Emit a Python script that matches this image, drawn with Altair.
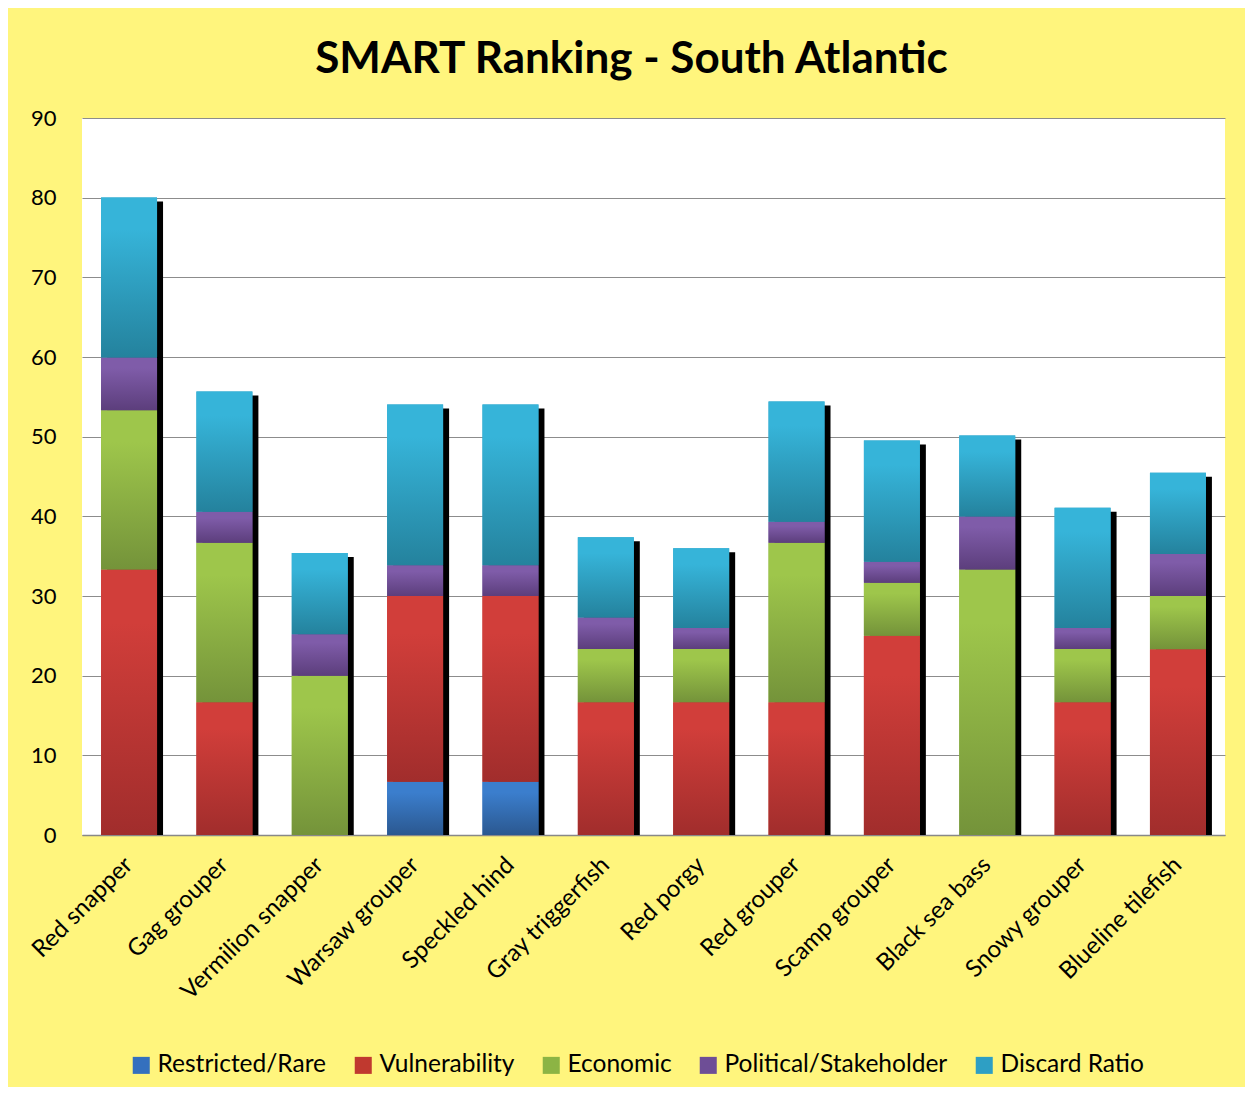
import altair as alt
import pandas as pd

species = ["Red snapper", "Gag grouper", "Vermilion snapper", "Warsaw grouper",
           "Speckled hind", "Gray triggerfish", "Red porgy", "Red grouper",
           "Scamp grouper", "Black sea bass", "Snowy grouper", "Blueline tilefish"]
series = ["Restricted/Rare", "Vulnerability", "Economic", "Political/Stakeholder", "Discard Ratio"]

restricted = [0, 0, 0, 6.67, 6.67, 0, 0, 0, 0, 0, 0, 0]
vulnerability = [33.33, 16.67, 0, 23.33, 23.33, 16.67, 16.67, 16.67, 25.0, 0, 16.67, 23.33]
economic = [20.0, 20.0, 20.0, 0, 0, 6.67, 6.67, 20.0, 6.67, 33.33, 6.67, 6.67]
political = [6.6, 3.9, 5.2, 3.85, 3.85, 3.95, 2.64, 2.64, 2.64, 6.66, 2.64, 5.27]
discard = [20.1, 15.1, 10.2, 20.2, 20.2, 10.1, 10.0, 15.1, 15.2, 10.15, 15.1, 10.2]

legend_colors = ["#3470be", "#c0392f", "#8cb444", "#6e4e96", "#2e9fc4"]
grad_top = ["#3b7ecd", "#d13e3a", "#9ec64b", "#7f5ca9", "#36b4d9"]
grad_bot = ["#2b5890", "#a12d2c", "#74933a", "#5c3e7c", "#24829d"]

vals = [restricted, vulnerability, economic, political, discard]
rows = []
for si, s in enumerate(series):
    for i, sp in enumerate(species):
        rows.append({"species": sp, "series": s, "order": si, "value": vals[si][i]})
df = pd.DataFrame(rows)

FONT = "Lato"

xscale = alt.Scale(domain=species, paddingInner=0.413, paddingOuter=0.2)
yscale = alt.Scale(domain=[0, 90], nice=False)

base = alt.Chart(df).transform_stack(
    stack="value", groupby=["species"], as_=["y0", "y1"],
    sort=[alt.SortField("order", order="ascending")]
)

xenc = alt.X("species:N", scale=xscale, sort=species,
             axis=alt.Axis(title=None, labelAngle=-45, labelFontSize=24, labelFont=FONT,
                           labelColor="#000", ticks=False, domainColor="#888888",
                           domainWidth=1.5, labelPadding=26, labelLimit=400))
yenc = alt.Y("y0:Q", scale=yscale,
             axis=alt.Axis(title=None, values=list(range(0, 100, 10)), labelFontSize=22,
                           labelFont=FONT, labelColor="#000", ticks=False, domain=False,
                           gridColor="#8c8c8c", gridWidth=1.2, labelPadding=26))

shadow = alt.Chart(df).transform_aggregate(
    total="sum(value)", groupby=["species"]
).mark_bar(color="#000000", xOffset=6, yOffset=4, y2Offset=0).encode(
    x=alt.X("species:N", scale=xscale, sort=species),
    y=alt.Y("total:Q", scale=yscale),
    y2=alt.datum(0),
)

legend_layer = base.mark_bar().encode(
    x=xenc, y=yenc, y2="y1:Q",
    color=alt.Color("series:N", scale=alt.Scale(domain=series, range=legend_colors),
                    legend=alt.Legend(title=None, orient="none", direction="horizontal",
                                      legendX=47, legendY=935, symbolType="square",
                                      symbolSize=290, symbolStrokeWidth=0,
                                      labelFontSize=24.5, labelFont=FONT, labelColor="#000",
                                      labelLimit=500, columnPadding=24, symbolOffset=0,
                                      labelOffset=4)),
)

grad_layers = []
for si, s in enumerate(series):
    g = alt.Gradient(gradient="linear",
                     stops=[alt.GradientStop(color=grad_top[si], offset=0),
                            alt.GradientStop(color=grad_top[si], offset=0.2),
                            alt.GradientStop(color=grad_bot[si], offset=1)],
                     x1=0, x2=0, y1=0, y2=1)
    grad_layers.append(
        base.transform_filter(alt.datum.series == s).transform_filter(alt.datum.value > 0)
        .mark_bar(color=g).encode(
            x=alt.X("species:N", scale=xscale, sort=species),
            y=alt.Y("y0:Q", scale=yscale), y2="y1:Q")
    )

chart = alt.layer(shadow, legend_layer, *grad_layers).properties(
    width=1143, height=717,
    autosize=alt.AutoSizeParams(type="none"),
    padding={"left": 74, "top": 110, "right": 20, "bottom": 252},
    background="#fff57d",
    title=alt.TitleParams("SMART Ranking - South Atlantic", fontSize=44, font=FONT,
                          fontWeight="bold", color="#000", anchor="middle", offset=25, dx=-22),
).configure_view(fill="#ffffff", stroke=None)

chart.save("out.html", embed_options={"renderer": "svg", "actions": False})
